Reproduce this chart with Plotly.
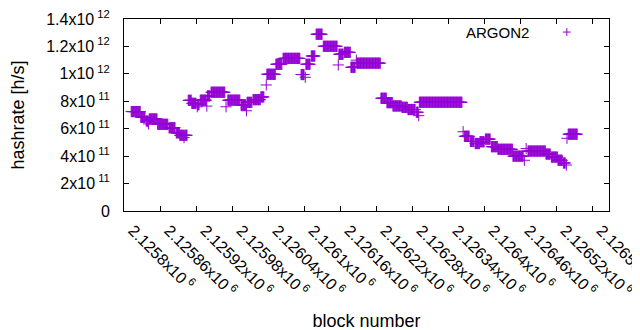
import numpy as np
import plotly.graph_objects as go

# Run-length reading of the chart: block offsets (from 2125800) and hashrate (x1e12 h/s)
BASE_BLOCK = 2125800
run_first = [12, 28, 37, 41, 42, 56, 75, 87, 93, 100, 101, 107, 113, 122, 123, 127, 138, 139,
             145, 170, 173, 195, 204, 205, 215, 228, 237, 238, 253, 265, 295, 302, 303, 312,
             320, 332, 357, 358, 367, 378, 387, 388, 428, 438, 448, 463, 473, 487, 491, 492,
             565, 567, 577, 585, 593, 602, 612, 623, 648, 667, 670, 673, 703, 712, 723, 732,
             737, 738, 740]
run_last = [27, 35, 40, 41, 55, 73, 85, 92, 99, 100, 105, 112, 120, 122, 125, 137, 138, 143,
            168, 170, 193, 203, 204, 213, 227, 233, 237, 252, 263, 293, 300, 302, 310, 318,
            330, 355, 357, 365, 377, 385, 387, 427, 437, 447, 462, 472, 485, 490, 491, 563,
            565, 575, 583, 592, 600, 610, 622, 647, 665, 667, 670, 702, 710, 722, 730, 735,
            737, 738, 755]
run_value = [0.725, 0.683, 0.656, 0.635, 0.671, 0.632, 0.607, 0.57, 0.552, 0.535, 0.552,
             0.807, 0.785, 0.76, 0.775, 0.808, 0.765, 0.839, 0.866, 0.76, 0.808, 0.773, 0.731,
             0.792, 0.812, 0.832, 0.919, 0.997, 1.07, 1.113, 0.995, 0.975, 1.07, 1.13, 1.289,
             1.201, 1.065, 1.143, 1.157, 1.048, 1.10, 1.078, 0.822, 0.79, 0.766, 0.756, 0.74,
             0.72, 0.695, 0.793, 0.578, 0.545, 0.507, 0.492, 0.505, 0.524, 0.469, 0.45, 0.40,
             0.37, 0.455, 0.437, 0.415, 0.393, 0.37, 0.35, 0.335, 0.53, 0.56]

x_tick_vals = [2125800, 2125860, 2125920, 2125980, 2126040, 2126100, 2126160,
               2126220, 2126280, 2126340, 2126400, 2126460, 2126520, 2126580]
x_tick_text = ["2.1258", "2.12586", "2.12592", "2.12598", "2.12604", "2.1261", "2.12616",
               "2.12622", "2.12628", "2.12634", "2.1264", "2.12646", "2.12652", "2.12658"]
y_tick_vals = [0, 2e11, 4e11, 6e11, 8e11, 1e12, 1.2e12, 1.4e12]
y_tick_text = ["0", "2x10", "4x10", "6x10", "8x10", "1x10", "1.2x10", "1.4x10"]
y_tick_exp = ["", "11", "11", "11", "11", "12", "12", "12"]

# decode runs
xs, ys = [], []
for a, b, v in zip(run_first, run_last, run_value):
    for k in range(a, b + 1):
        xs.append(BASE_BLOCK + k)
        ys.append(v * 1e12)

COLOR = "#9400D3"
FONT = "Liberation Sans, Arial, sans-serif"

fig = go.Figure()
fig.add_trace(go.Scatter(
    x=xs, y=ys, mode="markers", name="ARGON2", showlegend=False,
    marker=dict(symbol="cross-thin", size=8, line=dict(color=COLOR, width=1), color=COLOR),
))

xt = [f"{t}x10<sup> 6</sup>" for t in x_tick_text]
yt = [t if not e else f"{t}<sup> {e}</sup>" for t, e in zip(y_tick_text, y_tick_exp)]

# page body has an 8px margin; margins compensate so the plot lands where the reference has it
fig.update_layout(
    width=640, height=330,
    margin=dict(l=116, r=39, t=11, b=127),
    plot_bgcolor="white", paper_bgcolor="white",
    font=dict(family=FONT, size=15, color="black"),
    showlegend=False,
)
fig.update_xaxes(
    range=[2125800, 2126608], tickmode="array", tickvals=x_tick_vals, ticktext=xt,
    tickangle=45, ticks="inside", ticklen=5, tickcolor="black",
    ticklabelstandoff=3, ticklabelshift=9,
    ticklabeloverflow="allow", tickfont=dict(size=16),
    showline=True, linecolor="black", linewidth=1, mirror="allticks",
    showgrid=False, zeroline=False, automargin=False,
    title=dict(text="block number", standoff=15),
)
fig.update_yaxes(
    range=[0, 1.4e12], tickmode="array", tickvals=y_tick_vals, ticktext=yt,
    ticks="inside", ticklen=5, tickcolor="black", ticklabelstandoff=10,
    ticklabeloverflow="allow", tickfont=dict(size=16),
    showline=True, linecolor="black", linewidth=1, mirror="allticks",
    showgrid=False, zeroline=False, automargin=False,
    title=dict(text="hashrate [h/s]", standoff=24),
)

# gnuplot-style key: text on the left, sample symbol on the right
fig.add_annotation(x=0.839, y=0.932, xref="paper", yref="paper", text="ARGON2",
                   showarrow=False, xanchor="right", yanchor="middle",
                   font=dict(family=FONT, size=15, color="black"))
for (dx0, dx1, dy0, dy1) in [(-4, 4, 0, 0), (0, 0, -4, 4)]:
    fig.add_shape(type="line", xref="paper", yref="paper", xsizemode="pixel", ysizemode="pixel",
                  xanchor=0.913, yanchor=0.932, x0=dx0, x1=dx1, y0=dy0, y1=dy1,
                  line=dict(color=COLOR, width=1))

fig.write_html("out.html")
